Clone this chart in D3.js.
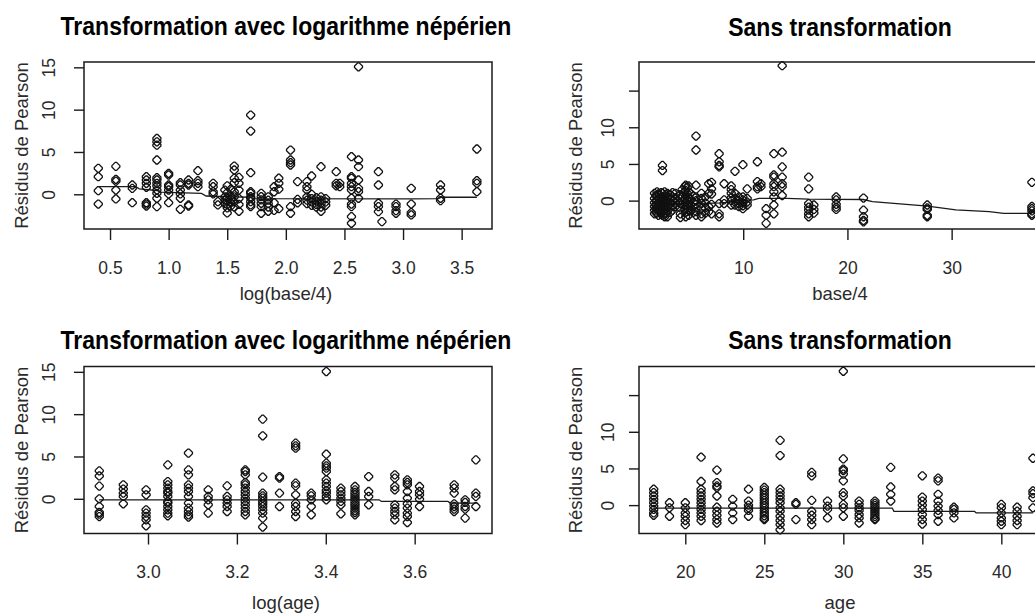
<!DOCTYPE html>
<html><head><meta charset="utf-8">
<script src="https://cdn.jsdelivr.net/npm/d3@7"></script>
<style>
body{margin:0;background:#fff}
svg{display:block}
text{font-family:"Liberation Sans",Arial,sans-serif}
</style>
</head><body>
<svg id="c" width="1035" height="614"></svg>
<script>
// ---------- DATA ----------
const titleLog = "Transformation avec logarithme népérien";
const titleRaw = "Sans transformation";
const yLabel = "Résidus de Pearson";
const xLabels = ["log(base/4)", "base/4", "log(age)", "age"];

// Panel 1 : x = log(base/4), residuals (columns)
const p1Cols = [
  [0.40,[3.07,2.08,0.43,-1.15]],
  [0.55,[3.3,1.77,1.55,0.5,-0.55]],
  [0.69,[1.1,0.7,-0.99]],
  [0.81,[2.08,1.69,1.3,0.83,-0.99,-1.15,-1.38]],
  [0.90,[6.6,6.2,5.8,4.05,1.96,1.69,1.3,0.98,0.51,0.12,-0.47,-1.46]],
  [1.00,[2.48,2.28,1.1,0.9,0.51,0.04,-0.99]],
  [1.10,[1.37,1.1,0.51,0.04,-0.47,-1.77]],
  [1.17,[1.69,1.3,1.1,-1.26,-1.38]],
  [1.25,[2.79,1.61,1.3,0.9]],
  [1.38,[1.3,0.9,0.31,0.04]],
  [1.42,[-0.87,-1.26]],
  [1.48,[0.5,-0.3,-0.7,-1.1]],
  [1.50,[1.0,0.2,-0.4,-0.8,-1.2,-1.6,-2.2]],
  [1.53,[0.6,-0.2,-0.6,-1.0,-1.4]],
  [1.56,[3.34,2.87,1.89,1.37,0.3,-0.3,-0.9,-1.5]],
  [1.60,[2.0,1.3,0.5,-0.5,-1.2,-2.0]],
  [1.70,[9.36,7.47,2.55,0.3,0.12,-0.28,-0.47,-0.87,-1.26,-1.46]],
  [1.79,[0.12,-0.28,-0.67,-1.06,-1.46,-2.24]],
  [1.85,[-0.3,-0.7,-1.1,-1.5,-2.0]],
  [1.90,[0.9,0.3,-1.0,-1.9]],
  [1.94,[1.9,1.3,0.6,-1.7]],
  [2.04,[5.23,4.05,3.73,3.46,-1.46,-2.24]],
  [2.10,[1.5,-0.6,-1.0]],
  [2.18,[1.5,0.9,0.5,-0.3,-0.7,-1.1]],
  [2.22,[2.16,0.0,-0.5,-0.9,-1.3]],
  [2.26,[-0.4,-0.8,-1.2,-1.5]],
  [2.30,[3.26,-0.3,-0.7,-1.1,-1.5,-2.0]],
  [2.34,[-0.5,-0.9,-1.3]],
  [2.43,[2.67,1.3,1.0]],
  [2.46,[1.3,0.9]],
  [2.56,[4.44,2.08,1.89,1.3,0.9,0.51,-0.47,-1.15,-1.46,-2.64,-3.42]],
  [2.62,[15.06,4.05,3.26,1.69,0.71,0.31,-0.47]],
  [2.79,[2.67,1.1,-1.06,-1.46,-2.05]],
  [2.82,[-3.23]],
  [2.94,[-1.15,-1.46,-1.93,-2.24]],
  [3.07,[0.71,-1.15,-2.17,-2.44]],
  [3.32,[1.1,0.51,-0.47,-0.75]],
  [3.63,[5.35,1.61,1.3,0.31]]
];
const p1Smooth = [[0.40,0.9],[0.72,0.9],[0.75,0.65],[0.90,0.45],[0.93,0.25],[1.28,0.1],[1.32,-0.2],[1.55,-0.3],[1.70,-0.35],[1.73,-0.5],[3.07,-0.55],[3.30,-0.5],[3.33,-0.35],[3.63,-0.35]];

// Panel 2 : x = base/4
const p2Cols = [
  [1.49,[1.0,0.3,-0.3,-0.8,-1.3,-1.8]],
  [1.62,[0.7,0.0,-0.6,-1.1,-1.6]],
  [1.73,[1.2,0.6,0.0,-0.6,-1.2,-1.7]],
  [1.86,[0.9,0.3,-0.3,-0.9,-1.4,-2.0]],
  [1.99,[0.8,0.2,-0.4,-1.0,-1.5]],
  [2.12,[1.1,0.5,-0.1,-0.6,-1.2,-1.8]],
  [2.25,[4.8,4.1,1.0,0.4,-0.2,-0.8,-1.4,-2.0]],
  [2.46,[1.2,0.5,-0.1,-0.7,-1.3,-1.9,-2.2]],
  [2.60,[0.8,0.1,-0.5,-1.1,-1.7]],
  [2.72,[1.0,0.3,-0.3,-0.9,-1.5,-2.2]],
  [3.00,[0.8,0.2,-0.4,-1.0,-1.6]],
  [3.22,[1.1,0.5,-0.1,-0.7,-1.3]],
  [3.49,[1.0,0.4,-0.2,-0.8]],
  [3.97,[0.8,0.2,-0.4,-1.0,-1.8,-2.3]],
  [4.14,[1.5,0.5,-0.5]],
  [4.39,[1.9,1.2,0.3,-0.6,-1.2]],
  [4.48,[2.1,1.4,0.6,-0.2,-0.9,-1.6,-2.2]],
  [4.62,[1.8,1.0,0.0,-0.7,-1.5]],
  [4.76,[2.0,1.2,0.4,-0.5,-1.3,-2.0]],
  [4.95,[1.0,0.2,-0.6,-1.4]],
  [5.20,[0.6,-0.2,-0.9,-1.6]],
  [5.47,[8.8,6.9,2.1,0.5,0.0,-0.5,-1.0,-1.5,-2.0]],
  [5.99,[1.0,0.3,-0.4,-1.1,-1.8,-2.2]],
  [6.36,[0.5,-0.3,-1.0,-1.7]],
  [6.69,[2.3,1.0,-0.8,-1.5]],
  [6.96,[2.5,1.6,0.9,-0.5,-1.8]],
  [7.69,[6.4,5.3,4.8,4.6,-0.4,-1.8,-2.2]],
  [8.17,[2.3,0.1,-0.4]],
  [8.85,[2.0,1.5,1.0,0.4,0.0,-0.6]],
  [9.21,[4.0,1.0,0.3,-0.2,-0.6]],
  [9.58,[0.5,0.0,-0.4,-0.8]],
  [9.97,[4.9,0.5,0.1,-0.3,-0.7,-1.1]],
  [10.38,[1.6,0.3,-0.2,-0.6]],
  [11.36,[5.3,2.6,1.9,1.6]],
  [11.70,[2.3,1.9]],
  [12.2,[-1.1,-2.0,-3.1]],
  [12.94,[6.4,3.5,3.2,2.3,1.9,1.2,0.5,-0.6,-1.8]],
  [13.74,[18.4,6.6,4.6,3.2,2.3,1.9,0.7]],
  [16.28,[3.2,1.6,-0.4,-0.9,-1.3,-1.8,-2.2]],
  [16.78,[-0.6,-1.2,-1.7]],
  [18.92,[0.5,0.1,-0.5,-0.9,-1.2]],
  [21.54,[0.35,-1.3,-2.2,-2.7,-2.9]],
  [27.66,[-0.6,-1.0,-1.2,-2.0,-2.2]],
  [37.70,[2.5,-0.8,-1.1,-1.4,-1.8,-2.0]]
];
const p2Smooth = [[1.49,-0.4],[5.5,-0.4],[8,-0.3],[9.5,0.0],[11,0.1],[11.5,0.3],[14.2,0.3],[16.3,0.2],[21.5,0.15],[22.4,-0.15],[27.7,-0.75],[30.4,-1.25],[33.6,-1.5],[35,-1.75],[37.7,-1.75]];

// Panels 3 & 4 : by age
const ages = [18,19,20,21,22,23,24,25,26,27,28,29,30,31,32,33,35,36,37,40,41,42];
const p3Res = [
  [3.3,2.7,1.5,0.0,-0.9,-1.6,-1.8,-2.1],
  [1.65,1.15,0.67,0.28,-0.59],
  [1.06,0.47,-1.3,-1.69,-2.09,-2.48,-3.19],
  [4.01,2.04,1.65,1.26,0.86,0.67,0.28,-0.31,-0.51,-0.91,-1.3,-1.69,-2.0],
  [5.4,3.42,2.83,1.65,1.26,0.86,0.28,-0.51,-1.1,-1.5,-1.89,-2.16],
  [1.06,0.28,-0.12,-0.71,-1.69],
  [1.53,0.28,-0.12,-0.51,-0.91,-1.5],
  [3.42,3.22,2.83,1.93,1.65,1.26,0.86,0.47,0.08,-0.31,-0.71,-1.1,-1.5,-1.89],
  [9.41,7.44,2.56,0.67,0.35,0.08,-0.31,-0.59,-0.91,-1.3,-1.69,-2.28,-3.34],
  [2.63,2.44,0.67,-0.91],
  [6.58,6.26,5.98,1.85,1.53,0.47,-0.51,-0.91,-1.5,-2.09],
  [0.67,0.35,-0.12,-0.91,-1.89],
  [15.03,5.27,4.21,3.9,3.62,3.22,2.24,1.85,1.45,0.98,0.67,0.28,-0.12],
  [1.26,0.86,0.47,0.08,-0.31,-0.71,-1.77],
  [1.45,1.06,0.75,0.47,0.2,-0.04,-0.31,-0.59,-0.83,-1.1,-1.38,-1.62,-1.89],
  [2.63,0.86,0.28,-0.71],
  [2.83,2.44,1.45,1.06,-0.71,-1.1,-1.5,-1.89,-2.48],
  [2.24,1.93,1.65,0.86,0.08,-0.59,-1.1,-1.69,-2.09,-2.8],
  [1.45,0.86,0.47,-0.04,-0.91],
  [1.65,1.26,0.67,-0.59,-0.91,-1.22,-1.5],
  [-0.12,-0.43,-0.91,-1.22,-2.28],
  [4.6,0.67,0.28,-0.91]
];
const p4Res = [
  [2.17,1.7,1.24,0.79,0.32,-0.14,-0.59,-1.06,-1.38],
  [0.32,-0.37,-1.52],
  [0.32,-0.37,-1.06,-1.52,-2.1,-2.66],
  [6.53,3.22,2.17,1.7,1.24,0.79,0.32,-0.14,-0.59,-1.06,-1.52,-2.1],
  [4.78,3.08,2.62,2.39,1.24,-0.28,-0.83,-1.38,-1.97,-2.44],
  [0.79,-0.14,-1.06,-1.97],
  [2.17,0.55,0.0,-0.37,-0.73,-1.52],
  [2.4,2.05,1.7,1.35,1.0,0.65,0.3,-0.05,-0.4,-0.75,-1.1,-1.45,-1.8,-1.97],
  [8.83,6.76,2.17,1.7,1.24,0.79,0.32,-0.37,-0.83,-1.52,-2.1,-2.66,-3.36],
  [0.32,0.1,-1.97],
  [4.46,4.0,0.65,-0.83,-1.38,-1.97,-2.66],
  [0.55,-0.14,-0.59,-1.75],
  [18.25,6.3,4.92,4.69,4.23,3.31,1.7,1.24,0.1,-0.37,-1.52],
  [0.55,0.1,-0.37,-0.73,-1.28,-1.75,-2.44],
  [0.55,0.25,-0.05,-0.35,-0.65,-0.95,-1.25,-1.55,-1.85,-1.97],
  [5.15,2.48,1.47,0.55],
  [4.0,1.1,0.55,0.0,-0.59,-1.28,-1.97,-2.58],
  [3.68,3.31,1.47,0.55,-0.14,-0.73,-1.28,-2.2],
  [-0.28,-0.59,-1.06,-1.75],
  [0.1,-0.37,-1.06,-1.75,-2.2,-2.66],
  [-0.28,-0.83,-1.52,-2.1,-2.66],
  [6.39,1.93,1.56,1.01,-0.37]
];
const p3Smooth = [[2.89,-0.12],[3.52,-0.12],[3.525,-0.31],[3.675,-0.31],[3.68,-0.5],[3.74,-0.5]];
const p4Smooth = [[18,-0.4],[33.1,-0.4],[33.2,-0.85],[38.3,-0.85],[38.4,-1.05],[42,-1.05]];

const xTicks1 = [0.5,1.0,1.5,2.0,2.5,3.0,3.5];
const xTicks2 = [10,20,30];
const xTicks3 = [3.0,3.2,3.4,3.6];
const xTicks4 = [20,25,30,35,40];
const yTicks = [0,5,10,15];
const yTickLabelsLeft = ["0","5","10","15"];
const yTickLabelsRight = ["0","5","10",""];

// ---------- BUILD ----------
const flatCols = cols => cols.flatMap(([x, ys]) => ys.map(y => [x, y]));
const flatAges = (res, fx) => ages.flatMap((a, i) => res[i].map(y => [fx(a), y]));

const panels = [
  {pts: flatCols(p1Cols), smooth: p1Smooth, xd:[0.278,3.759], yd:[-4.10,15.63], box:[84,492,62,229],
   xt: xTicks1, xf: d3.format(".1f"), yl: yTickLabelsLeft, title: titleLog, xlab: xLabels[0], cx: 286,
   ytx: 54.5, ylx: 28, tb: 35, xtb: 274, xlb: 300},
  {pts: flatCols(p2Cols), smooth: p2Smooth, xd:[0.0,39.15], yd:[-3.87,18.9], box:[639,1047,62,229],
   xt: xTicks2, xf: d3.format("d"), yl: yTickLabelsRight, title: titleRaw, xlab: xLabels[1], cx: 840,
   ytx: 614, ylx: 582, tb: 36, xtb: 274, xlb: 300},
  {pts: flatAges(p3Res, a => Math.log(a)), smooth: p3Smooth, xd:[2.856,3.774], yd:[-4.10,15.63], box:[84,492,366.5,533.5],
   xt: xTicks3, xf: d3.format(".1f"), yl: yTickLabelsLeft, title: titleLog, xlab: xLabels[2], cx: 286,
   ytx: 54.5, ylx: 28, tb: 349, xtb: 578, xlb: 609},
  {pts: flatAges(p4Res, a => a), smooth: p4Smooth, xd:[17.07,42.89], yd:[-3.87,18.9], box:[639,1047,366.5,533.5],
   xt: xTicks4, xf: d3.format("d"), yl: yTickLabelsRight, title: titleRaw, xlab: xLabels[3], cx: 840,
   ytx: 614, ylx: 582, tb: 349, xtb: 578, xlb: 609}
];

const svg = d3.select("#c");
svg.append("rect").attr("width",1035).attr("height",614).attr("fill","#fff");

const marker = "M-0.7,-4L0.7,-4L4,-0.7L4,0.7L0.7,4L-0.7,4L-4,0.7L-4,-0.7Z";
const ink = "#1a1a1a";
const fontStack = '"Liberation Sans",Arial,sans-serif';

panels.forEach(p => {
  const [l, r, t, b] = p.box;
  const x = d3.scaleLinear().domain(p.xd).range([l, r]);
  const y = d3.scaleLinear().domain(p.yd).range([b, t]);
  const g = svg.append("g");

  // title (slightly taller glyphs as in the reference)
  g.append("text").attr("transform", `translate(${p.cx},${p.tb}) scale(1,1.1)`).attr("text-anchor","middle")
    .attr("font-size", 23).attr("font-weight","bold").attr("fill","#000").text(p.title);

  // x axis (ticks)
  const xa = g.append("g").attr("transform", `translate(0,${b})`)
    .call(d3.axisBottom(x).tickValues(p.xt).tickSize(11).tickFormat(p.xf));
  xa.select(".domain").remove();
  xa.selectAll("line").attr("stroke", ink).attr("stroke-width", 1.4);
  xa.selectAll("text").attr("y", p.xtb - b).attr("dy", 0).attr("font-size", 17.5)
    .attr("fill", "#2a2a2a").attr("font-family", fontStack);

  // y axis (ticks)
  const ya = g.append("g").attr("transform", `translate(${l},0)`)
    .call(d3.axisLeft(y).tickValues(yTicks).tickSize(10).tickFormat((d, i) => p.yl[i]));
  ya.select(".domain").remove();
  ya.selectAll("line").attr("stroke", ink).attr("stroke-width", 1.4);
  ya.selectAll("text").attr("x", null).attr("dy", 0).attr("text-anchor","middle")
    .attr("transform", `translate(${p.ytx - l},0) rotate(-90)`)
    .attr("font-size", 17.5).attr("fill", "#2a2a2a").attr("font-family", fontStack);

  // axis labels
  g.append("text").attr("x", p.cx).attr("y", p.xlb).attr("text-anchor","middle")
    .attr("font-size", 18.5).attr("fill","#2a2a2a").text(p.xlab);
  g.append("text").attr("transform", `translate(${p.ylx},${(t+b)/2}) rotate(-90)`)
    .attr("text-anchor","middle").attr("font-size", 18.5).attr("fill","#2a2a2a").text(yLabel);

  // smooth line
  g.append("path").datum(p.smooth)
    .attr("d", d3.line().x(d => x(d[0])).y(d => y(d[1])))
    .attr("fill","none").attr("stroke", ink).attr("stroke-width", 1.3);

  // points
  g.append("g").selectAll("path").data(p.pts).join("path")
    .attr("transform", d => `translate(${x(d[0])},${y(d[1])})`)
    .attr("d", marker).attr("fill","none").attr("stroke","#111").attr("stroke-width", 1.3);

  // box
  g.append("rect").attr("x", l).attr("y", t).attr("width", r - l).attr("height", b - t)
    .attr("fill","none").attr("stroke", ink).attr("stroke-width", 1.5);
});
</script>
</body></html>
